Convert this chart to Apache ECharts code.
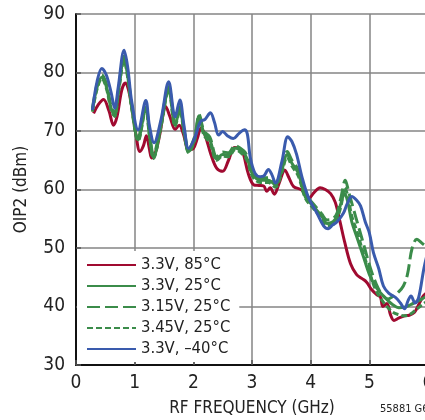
<!DOCTYPE html>
<html>
<head>
<meta charset="utf-8">
<script src="https://cdn.jsdelivr.net/npm/echarts@6/dist/echarts.min.js"></script>
<style>html,body{margin:0;padding:0;background:#fff;}#c{width:425px;height:420px;}</style>
</head>
<body>
<div id="c"></div>
<script>
// X ticks / axis
const xTicks = [0, 1, 2, 3, 4, 5, 6];
const yTicks = [30, 40, 50, 60, 70, 80, 90];
const seriesNames = ['3.3V, 85°C', '3.3V, 25°C', '3.15V, 25°C', '3.45V, 25°C', '3.3V, –40°C'];

// 3.3V, 85°C
const redF = [0.30,0.38,0.47,0.56,0.64,0.70,0.78,0.84,0.89,0.95,1.02,1.09,1.15,1.20,1.25,1.29,1.36,1.43,1.53,1.60,1.69,1.76,1.83,1.92,2.00,2.07,2.13,2.20,2.30,2.40,2.50,2.60,2.70,2.78,2.84,2.94,3.03,3.12,3.20,3.25,3.31,3.38,3.46,3.56,3.63,3.71,3.85,3.96,4.06,4.16,4.25,4.34,4.42,4.50,4.58,4.68,4.78,4.87,4.95,5.03,5.13,5.19,5.23,5.30,5.36,5.42,5.50,5.60,5.68,5.77,5.84,5.92,6.00];
const redV = [73.0,74.5,75.4,73.5,71.0,72.5,77.0,78.2,77.2,74.2,69.5,66.5,67.5,69.2,67.0,65.4,66.5,69.5,74.2,72.5,70.3,71.0,69.5,66.8,67.0,68.8,70.5,69.3,66.0,63.6,63.1,65.0,67.2,67.0,66.5,62.6,60.8,60.7,60.6,59.7,60.3,59.2,61.0,63.3,62.0,60.5,59.9,58.4,59.5,60.3,60.0,59.3,57.8,54.5,51.0,47.3,45.5,44.8,44.2,43.0,42.0,41.6,40.0,40.5,38.6,37.6,38.0,38.4,38.5,39.0,40.3,41.8,42.5];

// 3.3V, 25°C
const g1F = [0.28,0.36,0.44,0.52,0.60,0.66,0.72,0.82,0.88,0.95,1.06,1.19,1.25,1.32,1.45,1.58,1.69,1.77,1.84,1.92,2.02,2.10,2.18,2.28,2.40,2.50,2.60,2.71,2.86,2.93,3.00,3.14,3.28,3.40,3.50,3.60,3.68,3.79,3.91,4.05,4.19,4.28,4.38,4.45,4.52,4.58,4.63,4.70,4.80,4.90,5.00,5.10,5.22,5.32,5.40,5.50,5.60,5.70,5.80,5.90,6.00];
const g1V = [73.5,77.5,79.2,77.5,73.8,72.7,76.5,82.4,79.5,74.0,68.5,74.0,69.5,65.5,71.0,77.2,71.0,73.8,70.0,66.5,68.5,72.6,69.6,68.5,65.2,66.0,65.9,67.1,66.2,65.0,62.8,61.6,61.6,60.8,63.0,66.0,64.5,62.8,58.7,57.1,55.4,54.2,54.5,55.4,57.8,59.3,58.0,54.5,51.5,48.5,45.5,43.5,42.0,41.0,40.3,39.8,39.9,40.3,40.8,41.3,42.0];

// 3.15V, 25°C
const g2F = [0.28,0.36,0.44,0.52,0.60,0.66,0.72,0.82,0.88,0.95,1.06,1.19,1.25,1.32,1.45,1.58,1.69,1.77,1.84,1.92,2.02,2.10,2.18,2.28,2.40,2.50,2.60,2.71,2.86,2.93,3.00,3.14,3.28,3.40,3.50,3.60,3.68,3.79,3.91,4.05,4.19,4.28,4.38,4.45,4.52,4.59,4.65,4.72,4.82,4.92,5.02,5.12,5.22,5.32,5.40,5.50,5.58,5.65,5.73,5.81,5.90,6.00];
const g2V = [73.8,78.0,79.6,78.0,74.2,73.0,76.8,82.8,80.0,74.5,69.0,74.4,70.0,66.0,71.5,77.6,71.5,74.2,70.4,67.0,69.0,72.8,70.0,69.0,65.6,66.4,66.3,67.5,66.6,65.4,63.2,62.0,62.0,61.2,63.4,66.5,65.0,63.3,59.2,57.5,55.8,54.8,55.0,56.0,58.8,61.6,59.5,57.0,53.5,50.0,46.5,43.8,42.0,41.3,41.7,42.5,43.5,45.5,50.0,51.5,50.8,50.0];

// 3.45V, 25°C
const g3F = g1F;
const g3V = [73.3,77.2,79.0,77.2,73.5,72.5,76.2,82.0,79.2,73.8,68.3,73.7,69.3,65.3,70.8,77.0,70.8,73.5,69.8,66.3,68.3,72.3,69.3,68.0,65.0,65.7,65.6,66.8,65.8,64.6,62.4,61.2,61.2,60.4,62.6,65.5,64.0,62.3,58.5,56.7,55.0,53.8,54.0,55.0,57.3,60.3,59.0,55.5,52.5,49.0,46.0,43.0,41.0,39.8,39.0,38.6,38.4,38.7,39.5,40.3,41.0];

// 3.3V, -40°C
const blueF = [0.28,0.36,0.44,0.52,0.60,0.66,0.72,0.82,0.88,0.95,1.06,1.19,1.25,1.33,1.45,1.58,1.69,1.77,1.84,1.92,2.03,2.12,2.20,2.29,2.36,2.43,2.50,2.58,2.68,2.78,2.87,2.92,2.97,3.05,3.14,3.20,3.28,3.34,3.40,3.51,3.61,3.68,3.76,3.85,3.96,4.11,4.22,4.30,4.37,4.45,4.56,4.62,4.70,4.78,4.85,4.93,5.00,5.07,5.16,5.24,5.33,5.45,5.53,5.60,5.66,5.71,5.78,5.84,5.93,6.00];
const blueV = [73.6,78.5,80.7,79.5,76.5,73.9,77.5,83.8,81.0,75.0,70.2,75.2,71.0,68.0,72.0,78.4,72.4,75.3,71.0,67.0,69.0,71.6,72.0,73.1,71.5,69.3,69.9,69.2,68.7,69.6,70.2,69.5,65.5,62.8,62.2,62.3,63.4,62.5,61.1,64.8,69.0,68.2,66.0,62.2,58.7,55.9,53.8,53.3,53.9,54.5,56.0,57.5,58.8,58.2,57.2,54.5,52.6,49.2,46.5,43.5,42.3,41.5,40.6,39.6,41.0,41.8,40.6,41.5,46.5,49.5];

const FONT = "'Liberation Sans Narrow','Arial Narrow','DejaVu Sans Condensed','Liberation Sans',sans-serif";
const RED = '#A00A30', GREEN = '#3B8C4A', BLUE = '#3A5BAD';

function pairs(f, v) { return f.map((x, i) => [x, v[i]]); }
function mk(name, f, v, color, type) {
  return {
    name: name, type: 'line', data: pairs(f, v), smooth: 0.35, symbol: 'none',
    lineStyle: { color: color, width: 3, type: type, cap: 'butt' },
    itemStyle: { color: color }, clip: true
  };
}

const chart = echarts.init(document.getElementById('c'), null, { renderer: 'canvas' });
chart.setOption({
  animation: false,
  backgroundColor: '#fff',
  textStyle: { fontFamily: FONT },
  grid: { left: 76, top: 14, width: 352, height: 351, containLabel: false, outerBoundsMode: 'none' },
  xAxis: {
    type: 'value', min: xTicks[0], max: xTicks[xTicks.length - 1], interval: 1,
    name: 'RF FREQUENCY (GHz)', nameLocation: 'middle', nameGap: 35,
    nameTextStyle: { fontSize: 17, color: '#222', fontFamily: FONT },
    axisLine: { show: true, onZero: false, lineStyle: { color: '#111', width: 2 } },
    axisTick: { show: true, inside: true, length: 5, lineStyle: { color: '#555', width: 1.5 } },
    axisLabel: { fontSize: 19, color: '#222', margin: 9, fontFamily: FONT, hideOverlap: false },
    splitLine: { show: true, lineStyle: { color: '#858585', width: 1.5 } }
  },
  yAxis: {
    type: 'value', min: yTicks[0], max: yTicks[yTicks.length - 1], interval: 10,
    name: 'OIP2 (dBm)', nameLocation: 'middle', nameGap: 46, nameRotate: 90,
    nameTextStyle: { fontSize: 17, color: '#222', fontFamily: FONT },
    axisLine: { show: true, onZero: false, lineStyle: { color: '#111', width: 2 } },
    axisTick: { show: true, inside: true, length: 5, lineStyle: { color: '#555', width: 1.5 } },
    axisLabel: { fontSize: 19, color: '#222', margin: 11, fontFamily: FONT },
    splitLine: { show: true, lineStyle: { color: '#858585', width: 1.5 } }
  },
  legend: {
    orient: 'vertical', left: 77, top: 251, backgroundColor: '#fff',
    padding: [5, 9, 4, 9], itemWidth: 49, itemHeight: 14, itemGap: 3,
    itemStyle: { opacity: 0 },
    textStyle: { fontSize: 16.5, color: '#222', fontFamily: FONT, lineHeight: 18 },
    data: seriesNames
  },
  graphic: [{
    type: 'text', left: 380, top: 404,
    style: { text: '55881 G66', fontSize: 11, fill: '#222', fontFamily: FONT }
  }],
  series: [
    mk(seriesNames[0], redF, redV, RED, 'solid'),
    mk(seriesNames[1], g1F, g1V, GREEN, 'solid'),
    mk(seriesNames[2], g2F, g2V, GREEN, [13, 5]),
    mk(seriesNames[3], g3F, g3V, GREEN, [6, 3]),
    mk(seriesNames[4], blueF, blueV, BLUE, 'solid')
  ]
});
</script>
</body>
</html>
